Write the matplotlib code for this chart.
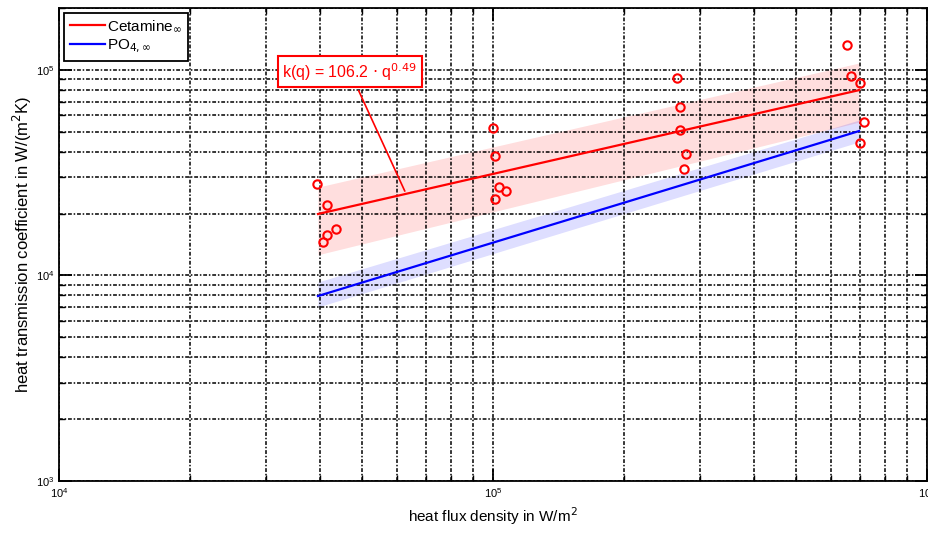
import numpy as np
import matplotlib
matplotlib.use('Agg')
import matplotlib.pyplot as plt

plt.rcParams['font.family'] = ['Liberation Sans', 'DejaVu Sans']

# puntos medidos (Cetamine), q en W/m2 y k en W/(m2K)
q_med = [3.94e4, 4.15e4, 4.35e4, 4.14e4, 4.05e4,
         9.98e4, 1.01e5, 1.034e5, 1.07e5, 1.01e5,
         2.65e5, 2.70e5, 2.70e5, 2.78e5, 2.75e5,
         6.54e5, 6.66e5, 7.01e5, 7.14e5, 7.01e5]
k_med = [27.7e3, 22.0e3, 16.8e3, 15.7e3, 14.6e3,
         51.9e3, 38.2e3, 26.8e3, 25.8e3, 23.5e3,
         91.8e3, 66.2e3, 50.9e3, 38.9e3, 32.9e3,
         132.7e3, 93.3e3, 86.8e3, 55.9e3, 44.3e3]

# rectas de ajuste (extremos)
q_ajuste = [3.95e4, 6.97e5]
k_cetamine = [19.9e3, 79.7e3]
k_po4 = [7.94e3, 50.4e3]

# bandas
k_cet_sup = [26.9e3, 108e3]
k_cet_inf = [12.6e3, 55.7e3]
k_po4_sup = [9.29e3, 57.0e3]
k_po4_inf = [7.02e3, 44.6e3]

fig = plt.figure(figsize=(9.29, 5.33), dpi=100)
ax = fig.add_axes([0.0635, 0.0976, 0.9345, 0.8874])

ax.fill_between(q_ajuste, k_cet_inf, k_cet_sup, color='red', alpha=0.13, lw=0)
ax.fill_between(q_ajuste, k_po4_inf, k_po4_sup, color='blue', alpha=0.13, lw=0)
ax.plot(q_ajuste, k_cetamine, color='red', lw=1.6, label=r'Cetamine$_{\infty}$')
ax.plot(q_ajuste, k_po4, color='blue', lw=1.6, label=r'PO$_{4,\infty}$')
ax.plot(q_med, k_med, 'o', mfc='none', mec='red', mew=1.5, ms=6)

ax.set_xscale('log')
ax.set_yscale('log')
ax.set_xlim(1e4, 1e6)
ax.set_ylim(1e3, 2e5)

# rejilla estilo matlab
estilo = (0, (2.5, 1.2, 1, 1.2))
ax.grid(True, which='both', color='black', linestyle=estilo, lw=1.1)
ax.tick_params(which='both', direction='in', top=True, right=True, labelsize=8)
ax.tick_params(which='major', length=9, width=1.3)
ax.tick_params(which='minor', length=4, width=1)
for s in ax.spines.values():
    s.set_linewidth(1.3)

ax.set_xlabel(r'heat flux density in W/m$^2$', fontsize=11)
ax.set_ylabel(r'heat transmission coefficient in W/(m$^2$K)', fontsize=12, labelpad=1)

ax.annotate(r'k(q) = 106.2 $\cdot$ q$^{0.49}$', xy=(6.3e4, 2.5e4), xytext=(4.68e4, 9.8e4),
            color='red', fontsize=11.5, ha='center', va='center',
            bbox=dict(boxstyle='square,pad=0.3', fc='white', ec='red', lw=1.5),
            arrowprops=dict(arrowstyle='-', color='red', lw=1.2))

leg = ax.legend(loc='upper left', fontsize=11, fancybox=False, framealpha=1,
                edgecolor='black', handlelength=2.3, borderaxespad=0.3,
                handletextpad=0.15, labelspacing=0.25)
leg.get_frame().set_linewidth(1.3)

fig.savefig('out.png', dpi=100)
